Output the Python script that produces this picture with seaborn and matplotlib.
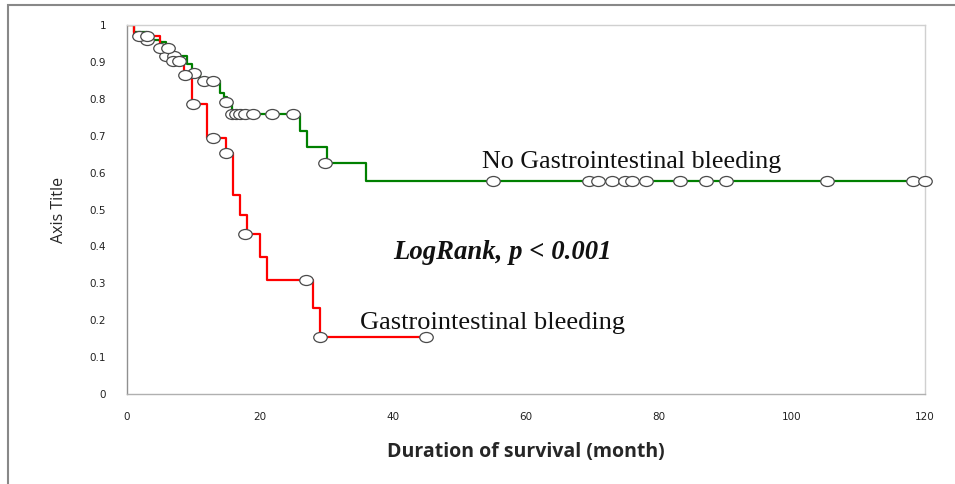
import matplotlib
matplotlib.use("Agg")
import matplotlib.pyplot as plt
import seaborn as sns
import pandas as pd
from matplotlib.markers import MarkerStyle
from matplotlib.transforms import Affine2D
from matplotlib.patches import Rectangle

# --- data ---
green_t = [0, 1, 3, 5, 5.8, 9, 9.8, 11, 14, 14.6, 15, 15.8, 26, 27, 30, 36, 120]
green_s = [1.0, 0.98, 0.96, 0.953, 0.917, 0.894, 0.871, 0.847, 0.817, 0.805,
           0.792, 0.758, 0.713, 0.67, 0.625, 0.577, 0.577]
green_cens_t = [3.05, 5.9, 7.1, 10, 11.6, 12.9, 14.9, 15.8, 16.4, 17, 17.7, 19,
                21.8, 25, 29.8, 55, 69.5, 70.8, 73, 74.9, 76, 78.1, 83.2, 87,
                90.1, 105.2, 118.2, 120]
green_cens_s = [0.959, 0.917, 0.917, 0.871, 0.847, 0.847, 0.792, 0.758, 0.758,
                0.758, 0.758, 0.758, 0.758, 0.758, 0.625, 0.577, 0.577, 0.577,
                0.577, 0.577, 0.577, 0.577, 0.577, 0.577, 0.577, 0.577, 0.577,
                0.577]

red_t = [0, 1, 5, 6.5, 8.5, 9.8, 12, 14.9, 16, 17, 18, 20, 21, 28, 29, 45]
red_s = [1.0, 0.971, 0.939, 0.903, 0.865, 0.785, 0.695, 0.652, 0.54, 0.486,
         0.434, 0.371, 0.308, 0.232, 0.154, 0.154]
red_cens_t = [1.85, 2.96, 5, 6.1, 6.9, 7.8, 8.7, 9.9, 12.9, 14.9, 17.7, 26.9, 29, 45]
red_cens_s = [0.971, 0.971, 0.939, 0.939, 0.903, 0.903, 0.865, 0.785, 0.695,
              0.652, 0.434, 0.308, 0.154, 0.154]

x_ticks = [0, 20, 40, 60, 80, 100, 120]
y_ticks = [0, 0.1, 0.2, 0.3, 0.4, 0.5, 0.6, 0.7, 0.8, 0.9, 1]
y_tick_labels = ["0", "0.1", "0.2", "0.3", "0.4", "0.5", "0.6", "0.7", "0.8", "0.9", "1"]

curves = pd.concat([
    pd.DataFrame({"t": green_t, "s": green_s, "group": "No GI bleeding"}),
    pd.DataFrame({"t": red_t, "s": red_s, "group": "GI bleeding"}),
], ignore_index=True)
cens = pd.concat([
    pd.DataFrame({"t": green_cens_t, "s": green_cens_s, "group": "No GI bleeding"}),
    pd.DataFrame({"t": red_cens_t, "s": red_cens_s, "group": "GI bleeding"}),
], ignore_index=True)

sns.set_style("white")
plt.rcParams["font.family"] = ["DejaVu Sans"]

fig = plt.figure(figsize=(9.55, 4.84), dpi=100)
ax = fig.add_axes([127 / 955, 1 - 394 / 484, (925 - 127) / 955, (394 - 25) / 484])

palette = {"No GI bleeding": "#008000", "GI bleeding": "#ff0000"}
sns.lineplot(data=curves, x="t", y="s", hue="group", palette=palette,
             estimator=None, sort=False, drawstyle="steps-post",
             linewidth=1.6, legend=False, ax=ax, zorder=2)

ell = MarkerStyle("o", transform=Affine2D().scale(1.35, 1.0))
sns.scatterplot(data=cens, x="t", y="s", marker=ell, s=52, color="white",
                edgecolor="#4a4a4a", linewidth=0.9, legend=False, ax=ax,
                zorder=3, clip_on=False)

ax.set_xlim(0, 120)
ax.set_ylim(0, 1)
ax.set_xticks(x_ticks)
ax.set_xticklabels([str(v) for v in x_ticks])
ax.set_yticks(y_ticks)
ax.set_yticklabels(y_tick_labels)
ax.tick_params(axis="both", length=0, labelsize=7.5, colors="#222222")
ax.tick_params(axis="y", pad=15)
ax.tick_params(axis="x", pad=13)

for side in ["top", "right"]:
    ax.spines[side].set_color("#d0d0d0")
    ax.spines[side].set_linewidth(1.0)
ax.spines["left"].set_color("#909090")
ax.spines["bottom"].set_color("#b0b0b0")
ax.spines["left"].set_linewidth(1.0)
ax.spines["bottom"].set_linewidth(1.0)

ax.set_xlabel("Duration of survival (month)", fontsize=14, fontweight="bold",
              family="Open Sans", labelpad=14)
ax.set_ylabel("Axis Title", fontsize=11.5, family="Open Sans", labelpad=16)

ax.text(53.4, 0.628, "No Gastrointestinal bleeding", family="Liberation Serif",
        fontsize=18.7, ha="left", va="center", color="#111111")
ax.text(40, 0.383, "LogRank, p < 0.001", family="Liberation Serif",
        fontsize=19.3, fontweight="bold", style="italic", ha="left", va="center",
        color="#111111")
ax.text(35, 0.193, "Gastrointestinal bleeding", family="Liberation Serif",
        fontsize=19, ha="left", va="center", color="#111111")

# outer frame (only left and top edges visible in the crop)
fig.add_artist(Rectangle((8 / 955, -0.1), 1.2, 1 - 5 / 484 + 0.1,
                         transform=fig.transFigure, fill=False,
                         edgecolor="#888888", linewidth=1.5))

fig.savefig("out.png", dpi=100)
